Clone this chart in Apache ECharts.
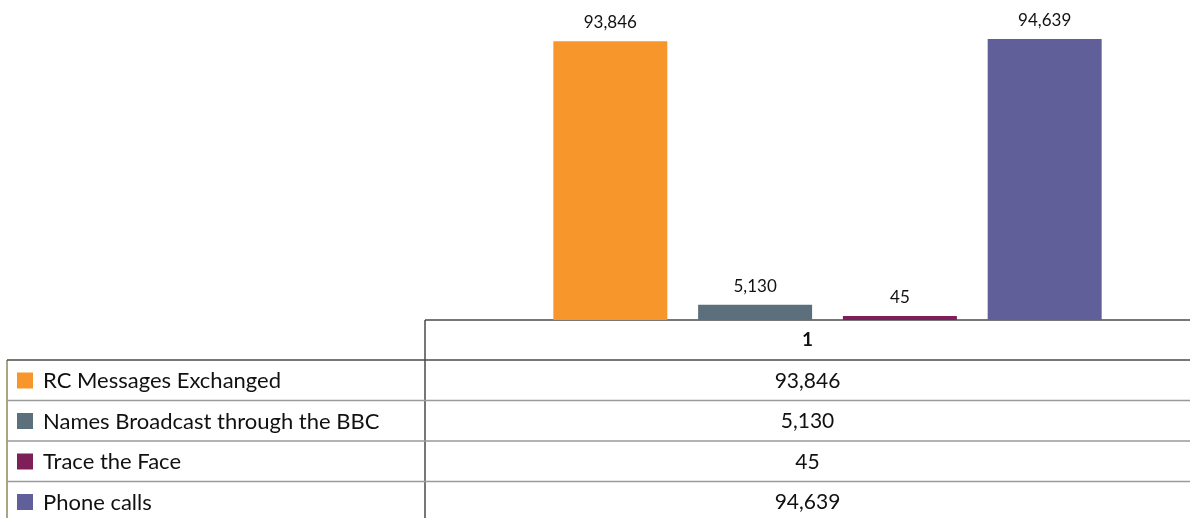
<!DOCTYPE html>
<html><head><meta charset="utf-8">
<script src="https://cdn.jsdelivr.net/npm/echarts@6/dist/echarts.min.js"></script>
<style>html,body{margin:0;padding:0;background:#fff}#c{width:1190px;height:518px}</style>
</head><body><div id="c"></div>
<script>
const categories = ['1'];
const seriesNames = ['RC Messages Exchanged', 'Names Broadcast through the BBC', 'Trace the Face', 'Phone calls'];
const seriesValues = [[93846], [5130], [45], [94639]];
const colors = ['#F7972B', '#5B6F7C', '#7E1F5A', '#615F99'];
const FONT = 'Lato';
const fmt = v => v.toLocaleString('en-US');

const chart = echarts.init(document.getElementById('c'));
const tableLeft = 7, colX = 425, right = 1190, headTop = 320, rowH = 40.5;
const graphics = [];
const lineDark = '#4a4a4a', lineLight = '#9a9a9a';
graphics.push({type:'line', shape:{x1:colX,y1:headTop,x2:right,y2:headTop}, style:{stroke:lineDark,lineWidth:1.5}});
graphics.push({type:'line', shape:{x1:colX,y1:headTop,x2:colX,y2:518}, style:{stroke:lineDark,lineWidth:1.5}});
graphics.push({type:'line', shape:{x1:tableLeft,y1:headTop+40,x2:tableLeft,y2:518}, style:{stroke:'#8a8a5a',lineWidth:1.5}});
graphics.push({type:'text', x:(colX+right)/2, y:headTop+20, style:{text:categories[0], font:'bold 19px '+FONT, fill:'#111', align:'center', verticalAlign:'middle'}});
seriesNames.forEach((n,i)=>{
  const y0 = headTop + 40 + i*rowH;
  graphics.push({type:'line', shape:{x1:tableLeft,y1:y0,x2:right,y2:y0}, style:{stroke:i===0?lineDark:lineLight,lineWidth:1.5}});
  graphics.push({type:'rect', shape:{x:17,y:y0+12.5,width:16,height:16}, style:{fill:colors[i]}});
  graphics.push({type:'text', x:43, y:y0+21, style:{text:n, font:'22px '+FONT, fill:'#111', verticalAlign:'middle'}});
  graphics.push({type:'text', x:(colX+right)/2, y:y0+21, style:{text:fmt(seriesValues[i][0]), font:'21px '+FONT, fill:'#111', align:'center', verticalAlign:'middle'}});
});

chart.setOption({
  animation:false,
  grid:{left:465, right:0, top:23, bottom:198},
  xAxis:{type:'category', data:categories, axisLine:{show:false}, axisTick:{show:false}, axisLabel:{show:false}},
  yAxis:{type:'value', min:0, max:100000, show:false, splitLine:{show:false}},
  series: seriesNames.map((n,i)=>({
    name:n, type:'bar', data:seriesValues[i], barWidth:114, barGap:'27%', barMinHeight:4,
    itemStyle:{color:colors[i]},
    label:{show:true, position:'top', distance:10, formatter:p=>fmt(p.value), fontFamily:FONT, fontSize:17, color:'#111'}
  })),
  graphic: graphics
});
</script></body></html>
